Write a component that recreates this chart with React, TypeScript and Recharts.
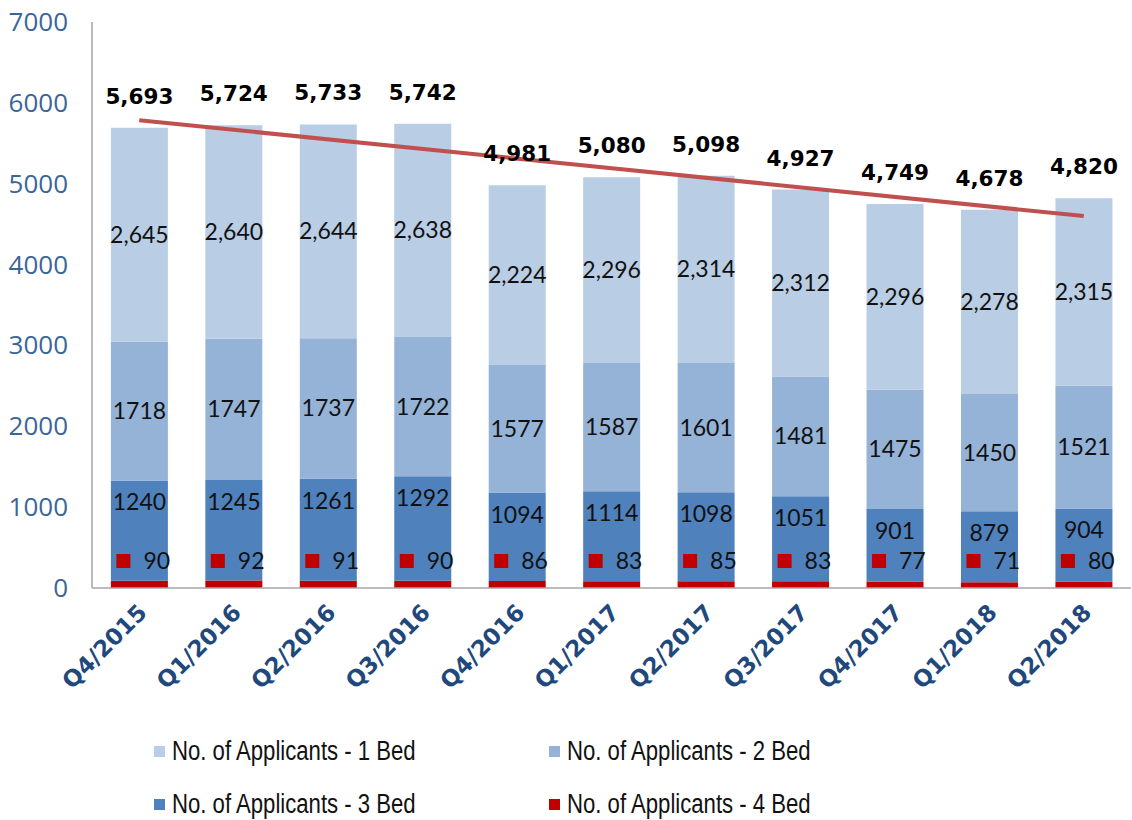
import { ComposedChart, Bar, Line, XAxis, YAxis, LabelList } from 'recharts'

const quarters = ['Q4/2015', 'Q1/2016', 'Q2/2016', 'Q3/2016', 'Q4/2016', 'Q1/2017', 'Q2/2017', 'Q3/2017', 'Q4/2017', 'Q1/2018', 'Q2/2018']
const bed1 = [2645, 2640, 2644, 2638, 2224, 2296, 2314, 2312, 2296, 2278, 2315]
const bed2 = [1718, 1747, 1737, 1722, 1577, 1587, 1601, 1481, 1475, 1450, 1521]
const bed3 = [1240, 1245, 1261, 1292, 1094, 1114, 1098, 1051, 901, 879, 904]
const bed4 = [90, 92, 91, 90, 86, 83, 85, 83, 77, 71, 80]
const totals = [5693, 5724, 5733, 5742, 4981, 5080, 5098, 4927, 4749, 4678, 4820]
// linear trend, read at first and last quarter
const trend = [5785, null, null, null, null, null, null, null, null, null, 4600]
const yTicks = [0, 1000, 2000, 3000, 4000, 5000, 6000, 7000]

const COLOR_1 = '#B9CDE5'
const COLOR_2 = '#95B3D7'
const COLOR_3 = '#4F81BD'
const COLOR_4 = '#C00000'
const TREND = '#C0504D'
const AXIS_TEXT = '#3A6599'
const AXIS_LINE = '#A6A6A6'

const data = quarters.map((q, i) => ({
  q,
  bed1: bed1[i],
  bed2: bed2[i],
  bed3: bed3[i],
  bed4: bed4[i],
  total: totals[i],
  trend: trend[i],
}))

const legendItems = [
  { name: 'No. of Applicants - 1 Bed', color: COLOR_1 },
  { name: 'No. of Applicants - 2 Bed', color: COLOR_2 },
  { name: 'No. of Applicants - 3 Bed', color: COLOR_3 },
  { name: 'No. of Applicants - 4 Bed', color: COLOR_4 },
]

const fmt = (v: number) => v.toLocaleString('en-US')

function XTick({ x, y, payload }: any) {
  return (
    <text
      transform={`translate(${x + 9},${y + 26}) rotate(-45)`}
      textAnchor="end"
      fill="#1F497D"
      fontFamily="DejaVu Sans"
      fontWeight="bold"
      fontSize={23}
    >
      {payload.value}
    </text>
  )
}

function YTick({ y, payload }: any) {
  return (
    <text x={68} y={y} dy={9} textAnchor="end" fill={AXIS_TEXT} fontFamily="Open Sans" fontSize={26}>
      {payload.value}
    </text>
  )
}

function CenterLabel({ x, y, width, height, value }: any) {
  return (
    <text x={x + width / 2} y={y + height / 2} dy={8} textAnchor="middle" fill="#111" fontFamily="Lato" fontSize={23}>
      {value >= 2000 ? fmt(value) : value}
    </text>
  )
}

function InsideEndLabel({ x, y, width, value }: any) {
  return (
    <text x={x + width / 2} y={y + 22} dy={8} textAnchor="middle" fill="#111" fontFamily="Lato" fontSize={23}>
      {value}
    </text>
  )
}

function KeyLabel({ x, y, width, height, value }: any) {
  const cx = x + width / 2
  const cy = y + height - 27
  return (
    <g>
      <rect x={cx - 23} y={cy - 7} width={14} height={14} fill={COLOR_4} />
      <text x={cx + 4} y={cy} dy={8} fill="#111" fontFamily="Lato" fontSize={23}>
        {value}
      </text>
    </g>
  )
}

function TotalLabel({ x, y, width, value }: any) {
  return (
    <text x={x + width / 2} y={y - 32} dy={8} textAnchor="middle" fill="#000" fontFamily="DejaVu Sans" fontWeight="bold" fontSize={21.5}>
      {fmt(value)}
    </text>
  )
}

export default function App() {
  return (
    <div style={{ position: 'absolute', left: 0, top: 0, width: 1132, height: 820, background: '#fff' }}>
      <ComposedChart
        width={1132}
        height={820}
        data={data}
        margin={{ top: 22, right: 1, left: 0, bottom: 0 }}
        barCategoryGap="20%"
      >
        <XAxis
          dataKey="q"
          height={232}
          interval={0}
          tickLine={false}
          tickSize={0}
          tickMargin={0}
          axisLine={{ stroke: AXIS_LINE, strokeWidth: 1.5 }}
          tick={<XTick />}
        />
        <YAxis
          width={92}
          domain={[0, 7000]}
          ticks={yTicks}
          tickLine={false}
          axisLine={{ stroke: AXIS_LINE, strokeWidth: 1.5 }}
          tick={<YTick />}
        />
        <Bar dataKey="bed4" stackId="a" fill={COLOR_4} isAnimationActive={false}>
          <LabelList dataKey="bed4" content={<KeyLabel />} />
        </Bar>
        <Bar dataKey="bed3" stackId="a" fill={COLOR_3} isAnimationActive={false}>
          <LabelList dataKey="bed3" content={<InsideEndLabel />} />
        </Bar>
        <Bar dataKey="bed2" stackId="a" fill={COLOR_2} isAnimationActive={false}>
          <LabelList dataKey="bed2" content={<CenterLabel />} />
        </Bar>
        <Bar dataKey="bed1" stackId="a" fill={COLOR_1} isAnimationActive={false}>
          <LabelList dataKey="bed1" content={<CenterLabel />} />
          <LabelList dataKey="total" content={<TotalLabel />} />
        </Bar>
        <Line
          dataKey="trend"
          stroke={TREND}
          strokeWidth={4}
          dot={false}
          activeDot={false}
          connectNulls
          isAnimationActive={false}
        />
      </ComposedChart>
      <div style={{ position: 'absolute', left: 0, top: 0, width: 1132, height: 820, pointerEvents: 'none' }}>
        {legendItems.map((item, i) => (
          <div
            key={item.name}
            style={{
              position: 'absolute',
              left: i % 2 === 0 ? 154 : 549,
              top: i < 2 ? 736 : 789,
              display: 'flex',
              alignItems: 'center',
              whiteSpace: 'nowrap',
            }}
          >
            <span style={{ width: 11, height: 11, background: item.color, display: 'inline-block', marginRight: 7 }} />
            <span
              style={{
                fontFamily: 'Liberation Sans',
                fontSize: 27,
                color: '#111',
                display: 'inline-block',
                transform: 'scaleX(0.82)',
                transformOrigin: 'left center',
              }}
            >
              {item.name}
            </span>
          </div>
        ))}
      </div>
    </div>
  )
}
